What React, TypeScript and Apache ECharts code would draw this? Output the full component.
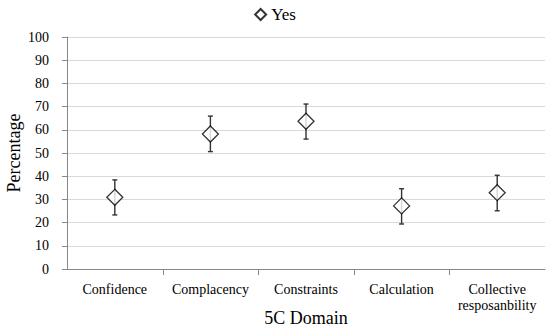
import React, { useEffect, useRef } from "react";
import * as echarts from "echarts";

const categories = ["Confidence", "Complacency", "Constraints", "Calculation", "Collective\nresposanbility"];
const yesValues = [30.9, 58.2, 63.7, 27.2, 32.9];
const lowerValues = [23.3, 50.6, 56.0, 19.4, 25.1];
const upperValues = [38.4, 65.9, 71.1, 34.6, 40.4];
const yTicks = { min: 0, max: 100, interval: 10 };

const FONT = "Liberation Serif";

export default function App() {
  const ref = useRef<HTMLDivElement>(null);
  useEffect(() => {
    document.body.style.margin = "0";
    const chart = echarts.init(ref.current!, null, { renderer: "svg" });
    const errData = categories.map((_, i) => [i, lowerValues[i], upperValues[i]]);
    chart.setOption({
      animation: false,
      backgroundColor: "#fff",
      textStyle: { fontFamily: FONT },
      legend: {
        top: 1,
        left: "center",
        data: [{ name: "Yes", icon: "diamond" }],
        itemWidth: 11,
        itemHeight: 11,
        itemGap: 6,
        textStyle: { fontFamily: FONT, fontSize: 17, color: "#000" },
      },
      grid: { left: 67, right: 5, top: 37, bottom: 60, containLabel: false, outerBoundsMode: "none" },
      xAxis: {
        type: "category",
        data: categories,
        boundaryGap: true,
        name: "5C Domain",
        nameLocation: "middle",
        nameGap: 40,
        nameMoveOverlap: false,
        nameTextStyle: { fontFamily: FONT, fontSize: 18, color: "#000" },
        axisLine: { lineStyle: { color: "#888", width: 1 } },
        axisTick: { show: false },
        axisLabel: {
          fontFamily: FONT,
          fontSize: 14,
          color: "#000",
          margin: 12,
          lineHeight: 16,
          interval: 0,
        },
        splitLine: { show: false },
      },
      yAxis: {
        type: "value",
        min: yTicks.min,
        max: yTicks.max,
        interval: yTicks.interval,
        name: "Percentage",
        nameLocation: "middle",
        nameGap: 44,
        nameMoveOverlap: false,
        nameTextStyle: { fontFamily: FONT, fontSize: 18, color: "#000" },
        axisLine: { show: true, lineStyle: { color: "#888", width: 1 } },
        axisTick: { show: true, length: 5, lineStyle: { color: "#888" } },
        axisLabel: { fontFamily: FONT, fontSize: 14, color: "#000", margin: 18 },
        splitLine: { show: true, lineStyle: { color: "#d9d9d9", width: 1 } },
      },
      series: [
        {
          name: "err",
          type: "custom",
          data: errData,
          clip: false,
          renderItem: (params: any, api: any) => {
            const x = api.value(0);
            const lo = api.value(1);
            const hi = api.value(2);
            const top = api.coord([x, hi]);
            const bot = api.coord([x, lo]);
            const base = api.coord([x, yTicks.min]);
            const bw = api.size([1, 0])[0];
            const cap = 2.5;
            const style = { stroke: "#333", lineWidth: 1.4 };
            const children: any[] = [
              { type: "line", shape: { x1: top[0], y1: top[1], x2: bot[0], y2: bot[1] }, style },
              { type: "line", shape: { x1: top[0] - cap, y1: top[1], x2: top[0] + cap, y2: top[1] }, style },
              { type: "line", shape: { x1: bot[0] - cap, y1: bot[1], x2: bot[0] + cap, y2: bot[1] }, style },
            ];
            if (params.dataIndex > 0) {
              const tx = Math.round(base[0] - bw / 2) + 0.5;
              children.push({
                type: "line",
                shape: { x1: tx, y1: base[1], x2: tx, y2: base[1] + 6 },
                style: { stroke: "#888", lineWidth: 1 },
              });
            }
            return { type: "group", children };
          },
          z: 2,
        },
        {
          name: "Yes",
          type: "scatter",
          data: yesValues,
          symbol: "diamond",
          symbolSize: [16, 16],
          itemStyle: { color: "#fff", borderColor: "#000", borderWidth: 1.3 },
          z: 3,
        },
      ],
    });
    return () => chart.dispose();
  }, []);
  return <div ref={ref} style={{ position: "absolute", left: 0, top: 0, width: 550, height: 329 }} />;
}
